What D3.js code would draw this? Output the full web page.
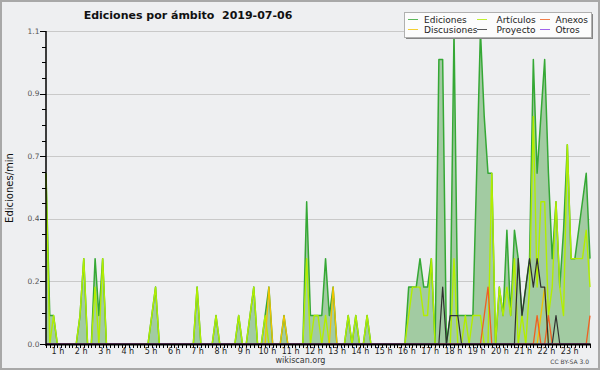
<!DOCTYPE html>
<html><head><meta charset="utf-8">
<script src="https://cdn.jsdelivr.net/npm/d3@7"></script>
<style>
html,body{margin:0;padding:0;background:#eeeff1;}
svg{display:block;}
text{font-family:"DejaVu Sans",sans-serif;}
</style></head>
<body><svg id="c" width="600" height="370"></svg>
<script>
// Ediciones/min per 10-minute step, one line per hour (6 steps), last value = 24:00
const ediciones = [
0.6,0.1,0.1,0,0,0,
0,0,0,0.1,0.3,0,
0,0.3,0.1,0.3,0,0,
0,0,0,0,0,0,
0,0,0,0,0.1,0.2,
0,0,0,0,0,0,
0,0,0,0,0.2,0,
0,0,0,0.1,0,0,
0,0,0,0.1,0,0,
0.1,0.2,0,0,0.1,0.2,
0,0,0,0.1,0,0,
0,0,0,0.5,0.1,0.1,
0.1,0.1,0.3,0.1,0.2,0,
0,0,0.1,0,0.1,0,
0,0.1,0,0,0,0,
0,0,0,0,0,0,
0.2,0.2,0.2,0.3,0.2,0.2,
0.3,0,1.0,1.0,0,0.1,
1.1,0.1,0.1,0.1,0.1,0.1,
0.6,1.1,0.8,0.6,0.6,0,
0.2,0.1,0.4,0.1,0.4,0.3,
0.1,0.2,0.3,1.0,0.6,0.8,
1.0,0.6,0.3,0.5,0.2,0.4,
0.7,0.3,0.3,0.4,0.5,0.6,
0.3];
const articulos = [
0.6,0,0.1,0,0,0,
0,0,0,0.1,0.3,0,
0,0.2,0,0.3,0,0,
0,0,0,0,0,0,
0,0,0,0,0.1,0.2,
0,0,0,0,0,0,
0,0,0,0,0.2,0,
0,0,0,0.1,0,0,
0,0,0,0.1,0,0,
0.1,0.2,0,0,0.1,0,
0,0,0,0,0,0,
0,0,0,0.3,0,0.1,
0.1,0,0.1,0,0,0,
0,0,0.1,0,0.1,0,
0,0.1,0,0,0,0,
0,0,0,0,0,0,
0.1,0.2,0.2,0.2,0.1,0.1,
0.3,0,0,0,0,0,
0.3,0,0,0.1,0,0.1,
0.1,0.1,0,0,0.6,0,
0.2,0.1,0.2,0.1,0.3,0,
0.1,0,0.2,0.8,0.2,0.5,
0.5,0.1,0.2,0.5,0.2,0.1,
0.7,0.3,0.3,0.3,0.3,0.4,
0.2];
const anexos = [
0,0,0,0,0,0, 0,0,0,0,0,0, 0,0,0,0,0,0, 0,0,0,0,0,0,
0,0,0,0,0,0, 0,0,0,0,0,0, 0,0,0,0,0,0, 0,0,0,0,0,0,
0,0,0,0,0,0, 0,0,0,0,0,0, 0,0,0,0,0,0, 0,0,0,0,0,0,
0,0,0,0,0,0, 0,0,0,0,0,0, 0,0,0,0,0,0, 0,0,0,0,0,0,
0,0,0,0,0,0,
0,0,0,0,0,0,
0,0,0,0,0,0,
0,0,0.1,0.2,0,0,
0,0,0,0,0,0,
0,0,0,0,0.1,0,
0,0.1,0,0,0,0,
0,0,0,0,0,0,
0.1];
const discusiones = [
0,0,0,0,0,0, 0,0,0,0,0,0, 0,0,0,0,0,0, 0,0,0,0,0,0,
0,0,0,0,0,0, 0,0,0,0,0,0, 0,0,0,0,0,0, 0,0,0,0,0,0,
0,0,0,0,0,0,
0,0,0,0,0,0.2,
0,0,0,0.1,0,0,
0,0,0,0,0,0,
0,0,0,0,0.2,0,
0,0,0,0,0,0,
0,0,0,0,0,0,
0,0,0,0,0,0,
0,0,0,0,0,0, 0,0,0,0,0,0, 0,0,0,0,0,0, 0,0,0,0,0,0,
0,0,0,0,0,0,
0,0,0,0,0,0.1,
0.2,0,0,0,0,0,
0,0,0,0,0,0,
0];
const proyecto = [
0,0,0,0,0,0, 0,0,0,0,0,0, 0,0,0,0,0,0, 0,0,0,0,0,0,
0,0,0,0,0,0, 0,0,0,0,0,0, 0,0,0,0,0,0, 0,0,0,0,0,0,
0,0,0,0,0,0, 0,0,0,0,0,0, 0,0,0,0,0,0, 0,0,0,0,0,0,
0,0,0,0,0,0, 0,0,0,0,0,0, 0,0,0,0,0,0, 0,0,0,0,0,0,
0,0,0,0,0,0,
0,0,0,0.2,0,0.1,
0.1,0.1,0,0,0,0,
0,0,0,0,0,0,
0,0,0,0,0,0.3,
0.1,0.2,0.3,0.2,0.3,0.2,
0.2,0,0,0.1,0,0,
0,0,0,0,0,0,
0];
const otros = [
0,0,0,0,0,0, 0,0,0,0,0,0, 0,0,0,0,0,0, 0,0,0,0,0,0,
0,0,0,0,0,0, 0,0,0,0,0,0, 0,0,0,0,0,0, 0,0,0,0,0,0,
0,0,0,0,0,0, 0,0,0,0,0,0, 0,0,0,0,0,0, 0,0,0,0,0,0,
0,0,0,0,0,0, 0,0,0,0,0,0, 0,0,0,0,0,0, 0,0,0,0,0,0,
0,0,0,0,0,0, 0,0,0,0,0,0, 0,0,0,0,0,0, 0,0,0,0,0,0,
0,0,0,0,0,0, 0,0,0,0,0,0, 0,0,0,0,0,0, 0,0,0,0,0,0,
0];
const seriesNames = ["Ediciones","Artículos","Anexos","Discusiones","Proyecto","Otros"];
const seriesColors = ["#35a835","#b2ee00","#f06020","#f2c400","#303030","#8a3ee8"];
const yTickValues = [0,0.22,0.44,0.66,0.88,1.1];
const yTickLabels = ["0.0","0.2","0.4","0.7","0.9","1.1"];
const hourLabels = ["1 h","2 h","3 h","4 h","5 h","6 h","7 h","8 h","9 h","10 h","11 h","12 h","13 h","14 h","15 h","16 h","17 h","18 h","19 h","20 h","21 h","22 h","23 h"];
const title = "Ediciones por ámbito  2019-07-06";
const yTitle = "Ediciones/min";

const svg = d3.select("#c");
const L = 46, R = 590, T = 31, B = 344;
const x = d3.scaleLinear().domain([0,144]).range([L,R]);
const y = d3.scaleLinear().domain([0,1.1]).range([B,T]);
const xl = d3.scaleLinear().domain([0,24]).range([34.7,593]);

svg.append("rect").attr("x",0).attr("y",0).attr("width",600).attr("height",370).attr("fill","#eeeff1");
svg.append("rect").attr("x",1).attr("y",1).attr("width",598).attr("height",368).attr("fill","none").attr("stroke","#a8a8a8").attr("stroke-width",2);

svg.append("g").selectAll("line").data(yTickValues.slice(1)).join("line")
  .attr("x1",L).attr("x2",R).attr("y1",d=>Math.round(y(d))+0.5).attr("y2",d=>Math.round(y(d))+0.5)
  .attr("stroke","#c9c9c9").attr("stroke-width",1);

const area = d3.area().x((d,i)=>x(i)).y0(B).y1(d=>y(d));
svg.append("path").datum(ediciones).attr("d",area).attr("fill","#a2cba2");
const line = d3.line().x((d,i)=>x(i)).y(d=>y(d));
const drawOrder = [
  [ediciones,0,1.5],[articulos,1,1.4],[discusiones,3,1.3],[anexos,2,1.3],[proyecto,4,1.2],[otros,5,1.2]
];
drawOrder.forEach(([arr,ci,w])=>{
  svg.append("path").datum(arr).attr("d",line).attr("fill","none")
    .attr("stroke",seriesColors[ci]).attr("stroke-width",w).attr("stroke-linejoin","round");
});

const ya = svg.append("g");
ya.append("line").attr("x1",L).attr("x2",L).attr("y1",T).attr("y2",B+2).attr("stroke","#000").attr("stroke-width",1.5);
const minor = d3.range(0,21).map(k=>k*0.055);
ya.selectAll("line.mi").data(minor).join("line").attr("class","mi")
  .attr("x1",L-4).attr("x2",L).attr("y1",d=>Math.round(y(d))+0.5).attr("y2",d=>Math.round(y(d))+0.5)
  .attr("stroke","#000").attr("stroke-width",1);
ya.selectAll("line.ma").data(yTickValues).join("line").attr("class","ma")
  .attr("x1",L-6).attr("x2",L).attr("y1",d=>Math.round(y(d))+0.5).attr("y2",d=>Math.round(y(d))+0.5)
  .attr("stroke","#000").attr("stroke-width",1);
ya.selectAll("text").data(yTickValues).join("text")
  .attr("x",L-6.5).attr("y",d=>y(d)+2.5).attr("text-anchor","end")
  .attr("font-size",7.5).attr("fill","#555").text((d,i)=>yTickLabels[i]);

const xa = svg.append("g");
xa.append("line").attr("x1",L).attr("x2",R+1).attr("y1",B+0.5).attr("y2",B+0.5).attr("stroke","#000").attr("stroke-width",2);
xa.selectAll("line.t").data(d3.range(0,145)).join("line").attr("class","t")
  .attr("x1",d=>Math.round(x(d))+0.5).attr("x2",d=>Math.round(x(d))+0.5).attr("y1",B).attr("y2",B+4)
  .attr("stroke","#000").attr("stroke-width",1);
xa.selectAll("text").data(hourLabels).join("text")
  .attr("x",(d,i)=>xl(i+1)).attr("y",353.5).attr("text-anchor","middle")
  .attr("font-size",8).attr("fill","#222").text(d=>d);

svg.append("text").attr("x",188).attr("y",18.5).attr("text-anchor","middle")
  .attr("font-size",11).attr("font-weight","bold").attr("fill","#111").style("white-space","pre").text(title);
svg.append("text").attr("transform","translate(13,188) rotate(-90)").attr("text-anchor","middle")
  .attr("font-family","DejaVu Sans Mono").attr("font-size",10).attr("fill","#111").text(yTitle);
svg.append("text").attr("x",300.5).attr("y",363).attr("text-anchor","middle").attr("font-size",8).attr("fill","#333").text("wikiscan.org");
svg.append("text").attr("x",589).attr("y",364).attr("text-anchor","end").attr("font-size",6).attr("fill","#444").text("CC BY-SA 3.0");

const lg = svg.append("g");
lg.append("rect").attr("x",406).attr("y",14).attr("width",187).attr("height",25).attr("fill","#858585");
lg.append("rect").attr("x",404.5).attr("y",12.5).attr("width",187).attr("height",25).attr("fill","#fcfcfc").attr("stroke","#b0b0b0");
const cols = [408, 477, 540], textX = [424, 496.5, 555.5], rows = [19.5, 29.5];
const legendOrder = [[0,0,0],[1,1,0],[2,2,0],[3,0,1],[4,1,1],[5,2,1]];
legendOrder.forEach(([si,c,r])=>{
  lg.append("line").attr("x1",cols[c]).attr("x2",cols[c]+10).attr("y1",rows[r]).attr("y2",rows[r])
    .attr("stroke",seriesColors[si]).attr("stroke-width",1).attr("opacity",0.8);
  lg.append("text").attr("x",textX[c]).attr("y",rows[r]+3.2).attr("font-size",9).attr("fill","#222").text(seriesNames[si]);
});
</script></body></html>
